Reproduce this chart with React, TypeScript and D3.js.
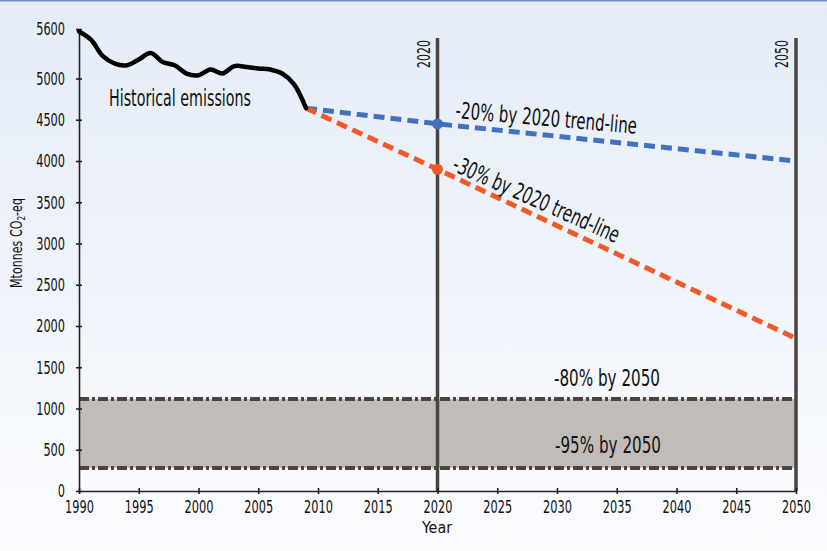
import { useEffect, useRef } from "react";
import * as d3 from "d3";

// historical emissions, Mtonnes CO2-eq
const histYears = [1990, 1991, 1992, 1993, 1994, 1995, 1996, 1997, 1998, 1999, 2000, 2001, 2002, 2003, 2004, 2005, 2006, 2007, 2008, 2009];
const histValues = [5570, 5470, 5270, 5180, 5160, 5230, 5310, 5200, 5160, 5060, 5040, 5110, 5060, 5150, 5140, 5120, 5110, 5060, 4930, 4640];

// trend lines: start, 2020, 2050
const trendYears = [2009, 2020, 2050];
const trend20 = [4640, 4450, 4000];
const trend30 = [4640, 3900, 1850];

// 2050 target band
const band = [278, 1114];
const markerYears = [2020, 2050];

const xTicks = [1990, 1995, 2000, 2005, 2010, 2015, 2020, 2025, 2030, 2035, 2040, 2045, 2050];
const yTicks = [0, 500, 1000, 1500, 2000, 2500, 3000, 3500, 4000, 4500, 5000, 5600];

const FONT = "'Liberation Sans Narrow', 'DejaVu Sans Condensed', 'Roboto Condensed', sans-serif";

const W = 827;
const H = 551;

const x = d3.scaleLinear().domain([1990, 2050]).range([79, 796]);
const y = d3.scaleLinear().domain([0, 5600]).range([491, 29]);

function styleTicks(g: d3.Selection<SVGGElement, unknown, null, undefined>) {
  g.selectAll<SVGTextElement, number>(".tick text")
    .attr("font-family", FONT)
    .attr("font-size", 18.5)
    .attr("fill", "#111")
    .attr("textLength", (d) => String(d).length * 7.2)
    .attr("lengthAdjust", "spacingAndGlyphs");
}

function XAxis() {
  const ref = useRef<SVGGElement>(null);
  useEffect(() => {
    if (!ref.current) return;
    const g = d3.select(ref.current);
    g.call(d3.axisBottom(x).tickValues(xTicks).tickFormat(d3.format("d")).tickSizeInner(3).tickSizeOuter(0).tickPadding(6));
    g.select(".domain").attr("stroke", "#222").attr("stroke-width", 1.6);
    g.selectAll(".tick line").attr("y1", -3).attr("stroke", "#222").attr("stroke-width", 1.6);
    styleTicks(g);
  }, []);
  return <g ref={ref} transform={`translate(0,${y(0)})`} />;
}

function YAxis() {
  const ref = useRef<SVGGElement>(null);
  useEffect(() => {
    if (!ref.current) return;
    const g = d3.select(ref.current);
    g.call(d3.axisLeft(y).tickValues(yTicks).tickFormat(d3.format("d")).tickSizeInner(3).tickSizeOuter(0).tickPadding(11));
    g.select(".domain").attr("stroke", "#222").attr("stroke-width", 1.6);
    g.selectAll(".tick line").attr("x1", 3).attr("stroke", "#222").attr("stroke-width", 1.6);
    styleTicks(g);
  }, []);
  return <g ref={ref} transform={`translate(${x(1990)},0)`} />;
}

export default function App() {
  const hist = histYears.map((yr, i) => [yr, histValues[i]] as [number, number]);
  const t20 = trendYears.map((yr, i) => [yr, trend20[i]] as [number, number]);
  const t30 = trendYears.map((yr, i) => [yr, trend30[i]] as [number, number]);

  const smooth = d3
    .line<[number, number]>()
    .x((d) => x(d[0]))
    .y((d) => y(d[1]))
    .curve(d3.curveCatmullRom.alpha(0.5));
  const straight = d3
    .line<[number, number]>()
    .x((d) => x(d[0]))
    .y((d) => y(d[1]));

  const x0 = x(1990);
  const x1 = x(2050);

  return (
    <svg width={W} height={H} style={{ position: "absolute", left: 0, top: 0 }}>
      <defs>
        <linearGradient id="bg" x1="0" y1="0" x2="0" y2="1">
          <stop offset="0%" stopColor="#e5ecf7" />
          <stop offset="100%" stopColor="#fbfcfe" />
        </linearGradient>
      </defs>
      <rect x={0} y={0} width={W} height={H} fill="url(#bg)" />
      <rect x={0} y={0} width={W} height={1.5} fill="#6d90c4" />

      {/* target band */}
      <rect x={x0} y={y(band[1])} width={x1 - x0} height={y(band[0]) - y(band[1])} fill="#c1bcb8" />
      {band.map((v) => (
        <line key={v} x1={x0} x2={x1} y1={y(v)} y2={y(v)} stroke="#4a4440" strokeWidth={4} strokeDasharray="10,3,3,3" />
      ))}

      {/* 2020 / 2050 markers */}
      {markerYears.map((yr) => (
        <g key={yr}>
          <line x1={x(yr)} x2={x(yr)} y1={38} y2={y(0)} stroke="#4a433f" strokeWidth={3.5} />
          <text
            transform={`translate(${x(yr) - 8},54) rotate(-90)`}
            textAnchor="middle"
            fontFamily={FONT}
            fontSize={18}
            fill="#111"
            textLength={28}
            lengthAdjust="spacingAndGlyphs"
          >
            {yr}
          </text>
        </g>
      ))}

      <XAxis />
      <YAxis />

      {/* trend lines */}
      <path d={straight(t20) as string} fill="none" stroke="#4371c0" strokeWidth={5} strokeDasharray="11,6" />
      <path d={straight(t30) as string} fill="none" stroke="#f15a27" strokeWidth={5} strokeDasharray="11,6" />
      <circle cx={x(2020)} cy={y(trend20[1])} r={5.5} fill="#4371c0" />
      <circle cx={x(2020)} cy={y(trend30[1])} r={5.5} fill="#f15a27" />

      {/* historical */}
      <path d={smooth(hist) as string} fill="none" stroke="#000" strokeWidth={4.5} strokeLinejoin="round" strokeLinecap="round" />

      {/* labels */}
      <text x={109} y={106} fontFamily={FONT} fontSize={23} fill="#111" textLength={142} lengthAdjust="spacingAndGlyphs">
        Historical emissions
      </text>
      <text
        transform="translate(455,118) rotate(5)"
        fontFamily={FONT}
        fontSize={23}
        fill="#111"
        textLength={182}
        lengthAdjust="spacingAndGlyphs"
      >
        -20% by 2020 trend-line
      </text>
      <text
        transform="translate(451,170) rotate(24)"
        fontFamily={FONT}
        fontSize={23}
        fill="#111"
        textLength={180}
        lengthAdjust="spacingAndGlyphs"
      >
        -30% by 2020 trend-line
      </text>
      <text x={607} y={386} textAnchor="middle" fontFamily={FONT} fontSize={23} fill="#111" textLength={106} lengthAdjust="spacingAndGlyphs">
        -80% by 2050
      </text>
      <text x={608} y={453} textAnchor="middle" fontFamily={FONT} fontSize={23} fill="#111" textLength={106} lengthAdjust="spacingAndGlyphs">
        -95% by 2050
      </text>

      {/* axis titles */}
      <text x={437} y={533} textAnchor="middle" fontFamily={FONT} fontSize={16} fill="#111" textLength={30} lengthAdjust="spacingAndGlyphs">
        Year
      </text>
      <text
        transform="translate(22,243) rotate(-90)"
        textAnchor="middle"
        fontFamily={FONT}
        fontSize={15}
        fill="#111"
        textLength={90}
        lengthAdjust="spacingAndGlyphs"
      >
        Mtonnes CO
        <tspan fontSize={10} dy={3}>2</tspan>
        <tspan dy={-3}>-eq</tspan>
      </text>
    </svg>
  );
}
